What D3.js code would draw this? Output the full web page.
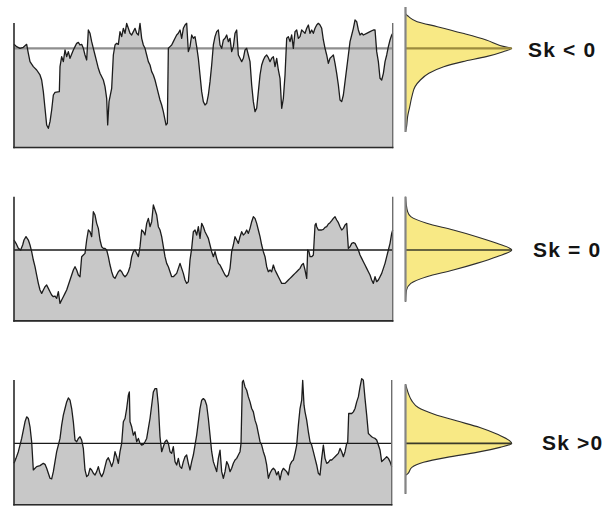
<!DOCTYPE html>
<html>
<head>
<meta charset="utf-8">
<script src="https://cdn.jsdelivr.net/npm/d3@7"></script>
<style>
  html, body { margin: 0; padding: 0; background: #fff; }
  svg { display: block; }
</style>
</head>
<body>
<svg id="chart" width="604" height="506"></svg>
<script>
// Three rough-surface profiles with their height distributions (skewness Sk).

const skLabels = ["Sk < 0", "Sk = 0", "Sk >0"];

// Profile 1: negative skew (deep valleys)
const t1 = [12,20,30,40,50,55,60,70,80,90,95,100,105,110,115,120,125,130,135,148,150,155,160,165,170,175,180,190,195,200,205,210,215,220,225,230,235,240,245,250,255,260,265,270,280,285,290,293,297,305,310,315,320,325,330,335,340,345,350,355,360,365,370,375,380,385,390,395,400,405,410,415,420,425,430,435,440,445,450,455,460,468,472,475,480,485,490,495,500,505,510,515,520,525,530,535,540,545,550,555,560,565,570,575,580,585,590,595,600,605,610,615,620,625,630,635,640,645,650,655,660,665,670,675,680,685,690,695,700,705,710,715,720,725,730,735,740,745,750,755,760,765,770,775,780,785,790,795,800,805,810,815,820,825,830,835,840,845,850,855,860,865,870,875,880,885,890,895,900,905,910,915,920,925,930,935,940,945,950,955,960,965,970,975,980,985,990,995,1000,1005,1010,1015,1020,1025,1030,1035,1040,1045,1050,1055,1060,1070,1080,1090,1095,1100,1105,1110,1115,1120,1125,1130,1135,1140,1145,1148];
const v1 = [12,5,0,3,12,-15,-40,-55,-65,-80,-95,-130,-180,-230,-240,-220,-185,-140,-132,-130,-55,-25,-40,-5,-25,-10,-30,-5,5,15,18,10,12,0,-20,-35,55,45,20,0,-20,-40,-60,-75,-95,-115,-150,-230,-160,-120,-20,10,15,12,50,35,60,45,75,60,45,40,50,60,45,40,75,30,10,0,-20,-40,-50,-70,-80,-95,-115,-135,-155,-170,-190,-230,-225,0,5,10,20,30,40,45,55,30,60,70,75,-10,5,40,30,35,5,-30,-80,-130,-160,-170,-165,-140,-100,-50,10,35,50,55,10,0,25,30,40,20,30,-10,5,45,55,-20,-30,-40,-30,-5,0,-20,-40,-110,-160,-190,-180,-130,-80,-50,-35,-25,-20,-28,-40,-30,-25,-55,-30,-65,-90,-180,-150,-80,30,35,20,40,0,50,55,30,35,55,50,45,60,70,45,55,45,60,70,75,70,60,25,0,-20,-45,-30,-25,-20,-45,-75,-110,-155,-160,-140,-100,-60,-20,20,40,60,85,80,55,40,45,40,45,50,55,55,-10,-40,-90,-95,-75,-40,-20,5,25,40,45];

// Profile 2: zero skew (symmetric)
const t2 = [12,18,25,32,38,42,48,55,60,65,70,75,80,85,90,95,100,105,110,115,120,125,130,135,140,145,150,155,160,165,170,175,180,185,190,195,200,205,210,215,220,225,230,235,240,245,250,255,260,265,270,275,280,285,290,295,300,305,310,315,320,325,330,335,340,345,350,355,360,365,370,375,380,385,390,395,400,405,410,415,420,425,430,435,440,445,450,455,460,465,470,475,480,485,490,495,500,505,510,515,520,525,530,535,540,545,550,555,560,565,570,575,580,585,590,595,600,605,610,615,620,625,630,635,640,645,650,655,660,665,670,675,680,685,690,695,700,705,710,715,720,725,730,735,740,745,750,755,760,765,770,775,780,785,790,795,800,805,810,815,820,825,830,835,840,845,850,855,860,865,870,875,880,885,890,893,897,900,905,910,915,918,920,925,930,935,940,945,950,955,960,965,970,975,980,985,990,995,1000,1005,1010,1015,1020,1025,1030,1035,1040,1045,1050,1055,1060,1065,1070,1075,1080,1085,1090,1095,1100,1105,1110,1115,1120,1125,1130,1135,1140,1145,1148];
const v2 = [30,20,5,0,15,30,40,30,15,-5,-30,-50,-75,-100,-120,-130,-120,-110,-105,-115,-125,-135,-140,-138,-145,-125,-160,-150,-140,-130,-120,-105,-90,-75,-60,-50,-60,-75,-80,-20,-15,-10,30,60,55,40,115,105,80,65,30,10,5,5,0,-20,-45,-65,-80,-85,-75,-65,-60,-65,-75,-80,-75,-65,-50,-20,-5,0,-10,-20,10,60,55,45,80,95,70,85,135,120,105,70,60,40,10,-20,-40,-50,-65,-80,-80,-75,-70,-55,-40,-55,-70,-90,-100,-95,-30,5,55,60,45,70,35,80,70,55,45,35,15,-5,-20,-5,-25,-40,-45,-55,-65,-75,-80,-75,-55,-5,15,40,30,20,40,55,45,50,60,50,65,85,100,95,80,60,40,15,-5,-20,-50,-65,-60,-65,-45,-60,-70,-80,-90,-100,-100,-100,-95,-90,-85,-80,-75,-70,-65,-60,-55,-45,-40,-60,-85,0,-5,-20,-20,-15,75,80,70,60,60,60,62,68,70,78,82,88,95,100,90,82,70,60,65,75,80,5,10,20,22,20,10,0,-15,-25,-35,-45,-55,-65,-75,-90,-100,-80,-95,-90,-80,-70,-55,-40,-20,0,20,50,60];

// Profile 3: positive skew (sharp peaks)
const t3 = [12,18,25,30,35,40,45,50,55,60,65,70,75,80,90,100,105,110,115,120,125,130,135,140,145,150,155,160,165,170,175,180,185,190,195,200,205,210,215,220,225,230,235,240,245,250,255,260,265,270,275,280,285,290,295,300,305,310,315,320,325,330,335,340,345,350,355,358,360,365,370,375,380,385,390,395,400,405,410,415,420,425,430,435,440,445,450,455,460,465,470,475,480,485,490,495,500,505,510,515,520,525,530,535,540,545,550,555,560,565,570,575,580,585,590,595,600,605,610,615,620,625,630,635,640,645,650,655,660,665,670,675,680,685,690,693,697,700,705,710,715,720,725,730,735,740,745,750,755,760,765,770,775,780,785,790,795,800,805,810,815,820,825,830,835,840,845,850,855,860,865,870,875,878,882,885,890,895,900,905,910,915,920,925,930,935,940,945,950,955,960,965,970,975,980,985,990,995,1000,1005,1010,1013,1016,1020,1025,1030,1035,1040,1045,1050,1055,1060,1065,1070,1075,1080,1085,1090,1095,1100,1105,1110,1115,1120,1125,1130,1135,1140,1145];
const v3 = [-60,-45,-25,-5,15,40,65,80,75,50,5,-80,-75,-70,-67,-60,-63,-75,-90,-105,-107,-85,-55,-25,-5,15,55,85,105,125,137,130,105,65,10,5,15,20,10,-15,-80,-100,-95,-75,-80,-90,-95,-85,-70,-90,-100,-90,-70,-50,-43,-55,-70,-55,-25,-40,-60,-25,0,65,75,105,145,155,65,50,25,35,5,15,0,-5,-3,5,15,45,75,115,155,165,165,115,20,-25,-10,5,10,0,-25,-30,-10,-55,-65,-45,-70,-75,-55,-40,-35,-60,-80,-55,-35,-5,25,65,105,130,135,130,115,75,25,-25,-55,-70,-85,-45,-20,-85,-105,-85,-55,-65,-85,-75,-60,-50,-45,-35,-25,0,185,190,170,160,140,125,105,95,70,55,30,5,-5,-25,-40,-65,-105,-90,-80,-75,-80,-95,-85,-110,-85,-75,-80,-85,-95,-65,-55,-50,-30,-5,55,105,130,190,115,95,70,35,5,-5,-25,-45,-65,-90,-95,-45,-5,-45,-60,-57,-50,-50,-45,-40,-35,-30,-15,-25,-40,-25,0,3,90,90,90,95,105,125,140,170,195,190,135,85,30,25,20,17,15,10,-5,-20,-55,-50,-45,-40,-45,-55,-70];

// Height distributions: level (same units as the profile) and relative density
const lev1 = [124,105,95,80,65,45,25,5,0,-10,-25,-40,-55,-75,-95,-115,-145,-175,-205,-235,-251];
const den1 = [0,0,0.03,0.11,0.30,0.54,0.76,0.93,1,0.92,0.76,0.54,0.36,0.22,0.14,0.09,0.06,0.04,0.02,0.01,0];
const lev2 = [160,115,100,80,60,40,20,0,-20,-40,-60,-80,-100,-120,-155];
const den2 = [0,0.02,0.05,0.20,0.45,0.67,0.86,1,0.86,0.67,0.45,0.20,0.05,0.01,0];
const lev3 = [178,168,148,128,108,88,68,48,28,0,-12,-27,-42,-57,-72,-92,-97,-152];
const den3 = [0,0.01,0.03,0.06,0.12,0.27,0.48,0.70,0.86,1,0.89,0.67,0.39,0.17,0.06,0.02,0,0];

const panels = [
  { t: t1, v: v1, lev: lev1, den: den1, domain: [-300, 100], range: [148.3, 15], frameTop: 76,
    meanColor: "#8e8e8e", meanWidth: 2.2, centerColor: "#9c8b3e", centerWidth: 2.2,
    label: skLabels[0], labelX: 528, labelY: 57 },
  { t: t2, v: v2, lev: lev2, den: den2, domain: [-215, 180], range: [321.7, 190], frameTop: 160,
    meanColor: "#1a1a1a", meanWidth: 1.3, centerColor: "#3a3a2a", centerWidth: 1.6,
    label: skLabels[1], labelX: 533, labelY: 257 },
  { t: t3, v: v3, lev: lev3, den: den3, domain: [-187, 215], range: [505.5, 372], frameTop: 191,
    meanColor: "#1a1a1a", meanWidth: 1.3, centerColor: "#3a3a2a", centerWidth: 1.6,
    label: skLabels[2], labelX: 542, labelY: 450 }
];

const svg = d3.select("#chart");

const x = d3.scaleLinear().domain([12, 1148]).range([14, 392.7]);
const dx = d3.scaleLinear().domain([0, 1]).range([405.5, 511.7]);

panels.forEach(p => {
  const y = d3.scaleLinear().domain(p.domain).range(p.range);
  const pts = p.t.map((tt, i) => ({ t: tt, v: p.v[i] }));
  const g = svg.append("g");
  const xEnd = x(d3.max(p.t));
  const yBottom = y(p.domain[0]);

  // filled profile
  g.append("path")
    .datum(pts)
    .attr("fill", "#c8c8c8")
    .attr("d", d3.area().x(d => x(d.t)).y0(yBottom).y1(d => y(d.v)));

  // mean line
  g.append("line")
    .attr("x1", x(12)).attr("x2", xEnd)
    .attr("y1", y(0)).attr("y2", y(0))
    .attr("stroke", p.meanColor).attr("stroke-width", p.meanWidth);

  // profile outline
  g.append("path")
    .datum(pts)
    .attr("fill", "none")
    .attr("stroke", "#1c1c1c")
    .attr("stroke-width", 1.3)
    .attr("stroke-linejoin", "round")
    .attr("d", d3.line().x(d => x(d.t)).y(d => y(d.v)));

  // frame: left axis, right edge, base
  g.append("line")
    .attr("x1", x(12)).attr("x2", x(12))
    .attr("y1", y(p.frameTop)).attr("y2", yBottom)
    .attr("stroke", "#2a2a2a").attr("stroke-width", 1.6);
  g.append("line")
    .attr("x1", xEnd).attr("x2", xEnd)
    .attr("y1", y(p.frameTop)).attr("y2", yBottom)
    .attr("stroke", "#6e6e6e").attr("stroke-width", 1.4);
  g.append("line")
    .attr("x1", x(12) - 0.8).attr("x2", xEnd + 0.7)
    .attr("y1", yBottom - 0.8).attr("y2", yBottom - 0.8)
    .attr("stroke", "#2a2a2a").attr("stroke-width", 1.6);

  // height distribution
  const dist = p.lev.map((l, i) => ({ l: l, d: p.den[i] }));
  g.append("path")
    .datum(dist)
    .attr("fill", "#f8e985")
    .attr("d", d3.area().curve(d3.curveMonotoneY)
      .y(d => y(d.l)).x0(dx(0)).x1(d => dx(d.d)));
  g.append("path")
    .datum(dist)
    .attr("fill", "none")
    .attr("stroke", "#2e2e2e")
    .attr("stroke-width", 1.1)
    .attr("d", d3.line().curve(d3.curveMonotoneY)
      .y(d => y(d.l)).x(d => dx(d.d)));
  g.append("line")
    .attr("x1", dx(0)).attr("x2", dx(1))
    .attr("y1", y(0)).attr("y2", y(0))
    .attr("stroke", p.centerColor).attr("stroke-width", p.centerWidth);
  g.append("line")
    .attr("x1", dx(0)).attr("x2", dx(0))
    .attr("y1", y(d3.max(p.lev))).attr("y2", y(d3.min(p.lev)))
    .attr("stroke", "#858585").attr("stroke-width", 2.2);

  // skewness label
  g.append("text")
    .attr("x", p.labelX).attr("y", p.labelY)
    .attr("font-family", "Liberation Sans, Arial, sans-serif")
    .attr("font-weight", "bold")
    .attr("font-size", 21)
    .attr("letter-spacing", 1.2)
    .attr("fill", "#141414")
    .text(p.label);
});
</script>
</body>
</html>
